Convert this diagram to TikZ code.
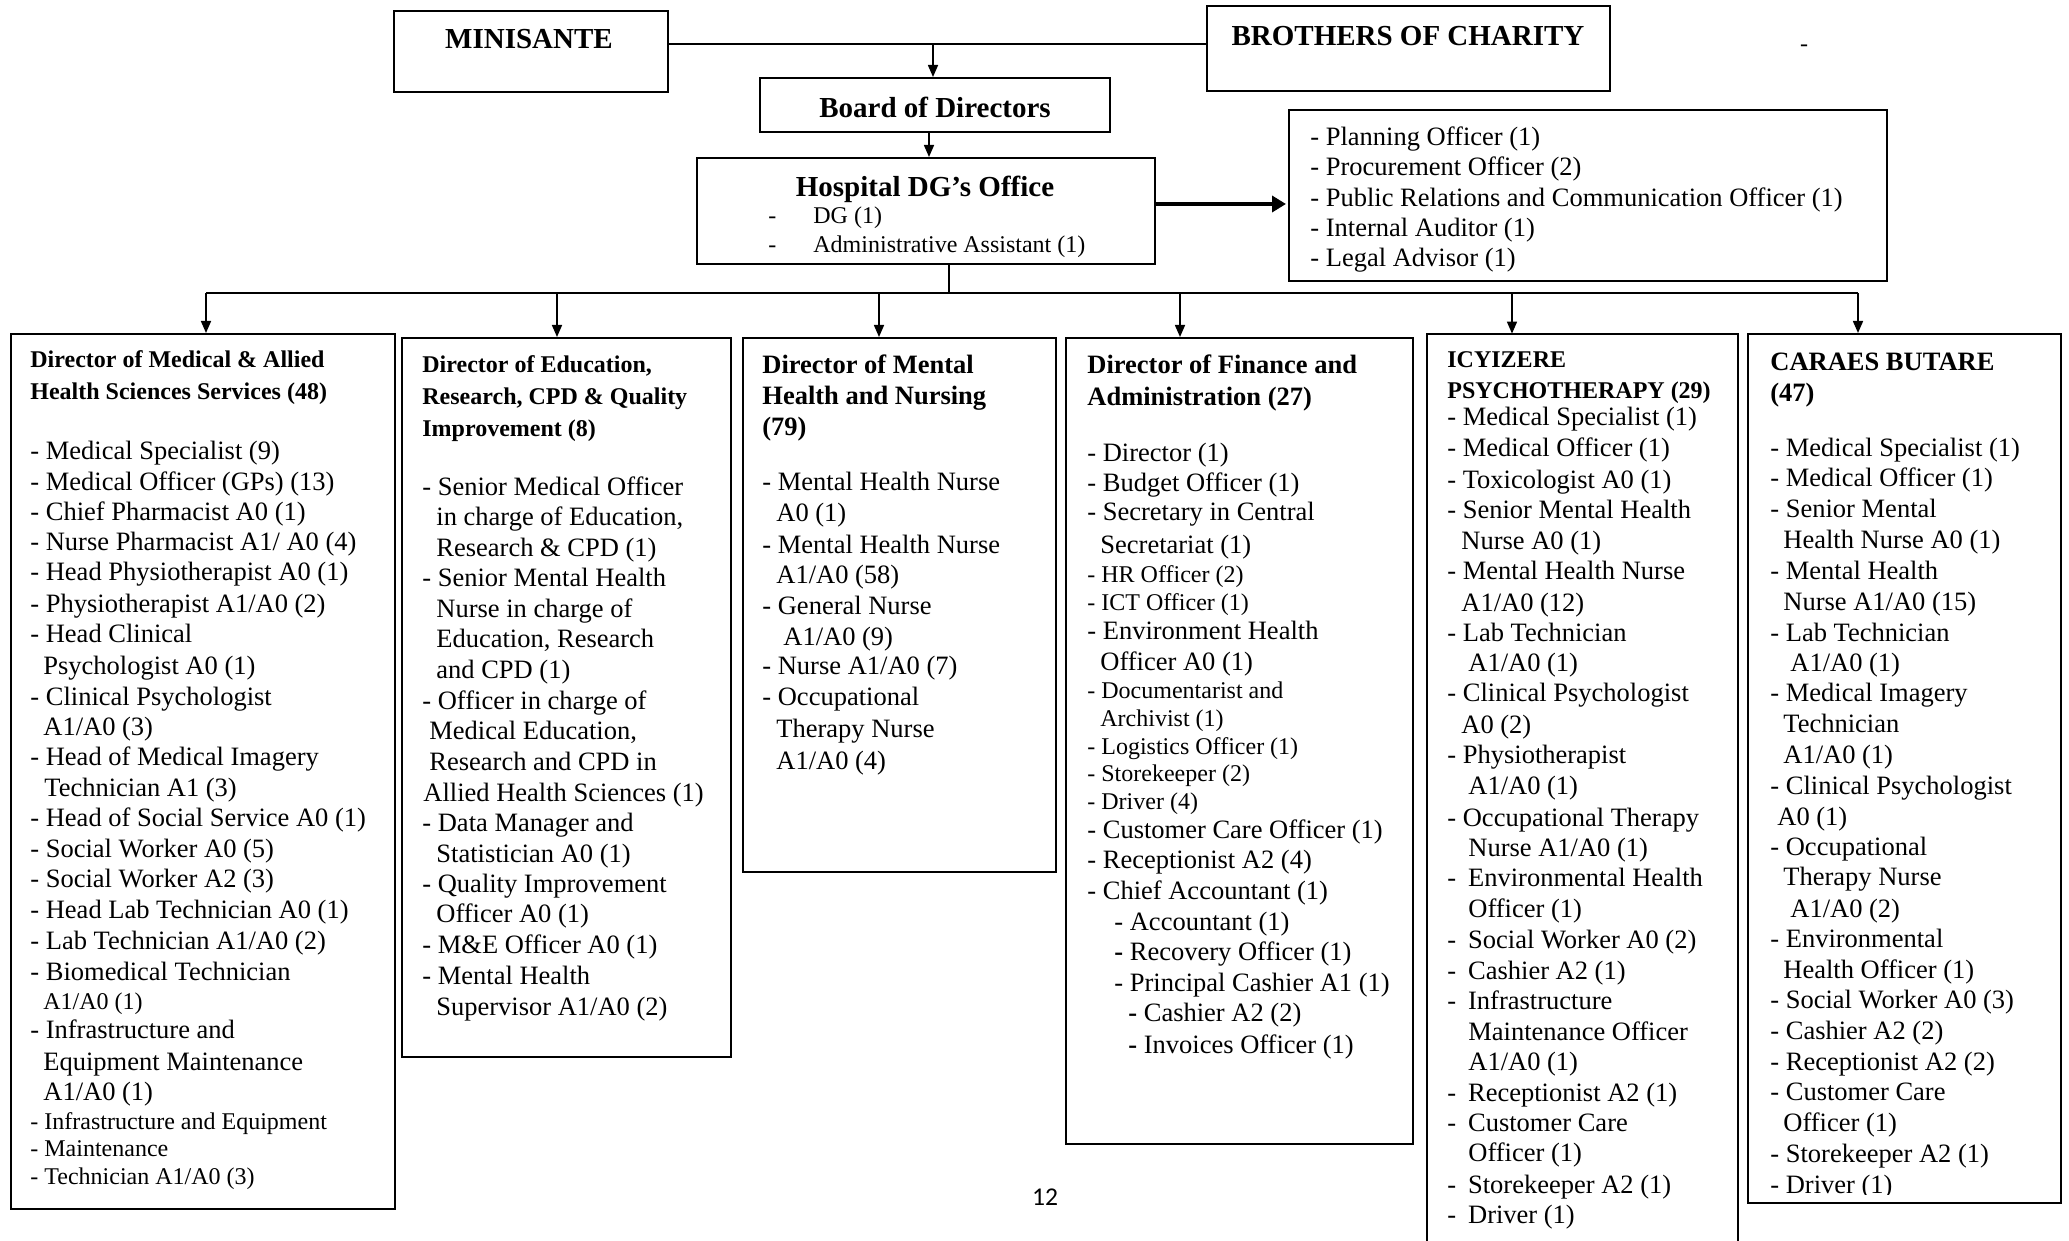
\documentclass[tikz,border=0pt]{standalone}
\usepackage{fontspec}
\setmainfont{Liberation Serif}
\newfontfamily\calib{Carlito}
\usetikzlibrary{arrows.meta,fit}
\newcommand\Nm{\fontsize{13.25pt}{15pt}\selectfont}
\newcommand\Sm{\fontsize{12pt}{14pt}\selectfont}
\newcommand\Hd{\bfseries\fontsize{12pt}{14pt}\selectfont}
\newcommand\Hb{\bfseries\fontsize{13.25pt}{15pt}\selectfont}
\newcommand\Ht{\bfseries\fontsize{14.5pt}{17pt}\selectfont}
\newcommand\Dsh{-\hspace{0.45em}}
\tikzset{
  box/.style={draw, line width=1pt, inner sep=0pt},
  tx/.style={anchor=west, inner sep=0pt, text height=10.5pt, text depth=2.5pt},
  conn/.style={line width=0.8pt},
  arr/.style={line width=0.8pt, -{Triangle[length=6pt,width=5pt]}},
  thickarr/.style={line width=2pt, -{Triangle[length=7pt,width=8pt]}},
}
\begin{document}
\begin{tikzpicture}[x=0.5pt,y=-0.5pt]
\useasboundingbox (0,0) rectangle (2069,1241);
\fill[white] (0,0) rectangle (2069,1241);

% top boxes
\node[box, fit={(394,11) (668,92)}] (mini) {};
\node[tx, anchor=center, font=\Ht] (minit) at (529,41) {MINISANTE};
\node[box, fit={(1207,6) (1610,91)}] (bro) {};
\node[tx, anchor=center, font=\Ht] (brot) at (1408,38) {BROTHERS OF CHARITY};
\node[tx, anchor=center, font=\Sm] (stray) at (1804,44) {-};
\node[box, fit={(760,78) (1110,132)}] (board) {};
\node[tx, anchor=center, font=\Ht] (boardt) at (935,110) {Board of Directors};
\node[box, fit={(697,158) (1155,264)}] (dg) {};
\node[tx, anchor=center, font=\Ht] (dgt) at (925,189) {Hospital DG’s Office};
\node[tx, font=\Sm] (dgd1) at (768,216) {-};
\node[tx, font=\Sm] (dgl1) at (813,216) {DG (1)};
\node[tx, font=\Sm] (dgd2) at (768,245) {-};
\node[tx, font=\Sm] (dgl2) at (813,245) {Administrative Assistant (1)};
\node[box, fit={(1289,110) (1887,281)}] (staff) {};
\foreach \y/\t [count=\i] in {138/{- Planning Officer (1)},168/{- Procurement Officer (2)},199/{- Public Relations and Communication Officer (1)},229/{- Internal Auditor (1)},259/{- Legal Advisor (1)}}
  {\node[tx, font=\Nm] (st-\i) at (1310,\y) {\t};}

% lower boxes
\node[box, fit={(11,334) (395,1209)}] (b1) {};
\node[box, fit={(402,338) (731,1057)}] (b2) {};
\node[box, fit={(743,338) (1056,872)}] (b3) {};
\node[box, fit={(1066,338) (1413,1144)}] (b4) {};
\node[inner sep=0pt, fit={(1427,334) (1738,1241)}] (b5) {};
\draw[line width=1pt] (b5.south west) -- (b5.north west) -- (b5.north east) -- (b5.south east);
\node[box, fit={(1748,334) (2061,1203)}] (b6) {};

% connectors
\coordinate (j1) at (933,44);
\draw[conn] (mini.east |- j1) -- (bro.west |- j1);
\draw[arr] (j1) -- (j1 |- board.north);
\draw[arr] ([xshift=-3pt]board.south) -- ([xshift=-3pt]board.south |- dg.north);
\coordinate (a3) at (1155,204);
\draw[thickarr] (dg.east |- a3) -- ([xshift=-1pt]staff.west |- a3);
\coordinate (stem) at (949,293);
\draw[conn] (stem |- dg.south) -- (stem);
\coordinate (bus1) at (206,293);
\coordinate (bus2) at (557,293);
\coordinate (bus3) at (879,293);
\coordinate (bus4) at (1180,293);
\coordinate (bus5) at (1512,293);
\coordinate (bus6) at (1858,293);
\draw[conn] (bus1) -- (bus6);
\foreach \i in {1,...,6} {\draw[arr] (bus\i) -- (bus\i |- b\i.north);}

% box 1
\foreach \x/\y/\f/\t [count=\i] in {
30/360/\Hd/{Director of Medical \& Allied},
30/392/\Hd/{Health Sciences Services (48)},
30/451/\Nm/{- Medical Specialist (9)},
30/482/\Nm/{- Medical Officer (GPs) (13)},
30/512/\Nm/{- Chief Pharmacist A0 (1)},
30/543/\Nm/{- Nurse Pharmacist A1/ A0 (4)},
30/573/\Nm/{- Head Physiotherapist A0 (1)},
30/604/\Nm/{- Physiotherapist A1/A0 (2)},
30/634/\Nm/{- Head Clinical},
43/666/\Nm/{Psychologist A0 (1)},
30/697/\Nm/{- Clinical Psychologist},
43/727/\Nm/{A1/A0 (3)},
30/757/\Nm/{- Head of Medical Imagery},
44/788/\Nm/{Technician A1 (3)},
30/818/\Nm/{- Head of Social Service A0 (1)},
30/849/\Nm/{- Social Worker A0 (5)},
30/879/\Nm/{- Social Worker A2 (3)},
30/910/\Nm/{- Head Lab Technician A0 (1)},
30/941/\Nm/{- Lab Technician A1/A0 (2)},
30/972/\Nm/{- Biomedical Technician},
43/1001/\Sm/{A1/A0 (1)},
30/1030/\Nm/{- Infrastructure and},
43/1062/\Nm/{Equipment Maintenance},
43/1092/\Nm/{A1/A0 (1)},
30/1121/\Sm/{- Infrastructure and Equipment},
30/1148/\Sm/{- Maintenance},
30/1176/\Sm/{- Technician A1/A0 (3)}}
  {\node[tx, font=\f] (b1-\i) at (\x,\y) {\t};}

% box 2
\foreach \x/\y/\f/\t [count=\i] in {
422/364/\Hd/{Director of Education,},
422/397/\Hd/{Research, CPD \& Quality},
422/429/\Hd/{Improvement (8)},
422/487/\Nm/{- Senior Medical Officer},
436/517/\Nm/{in charge of Education,},
436/548/\Nm/{Research \& CPD (1)},
422/578/\Nm/{- Senior Mental Health},
436/609/\Nm/{Nurse in charge of},
436/639/\Nm/{Education, Research},
436/670/\Nm/{and CPD (1)},
422/701/\Nm/{- Officer in charge of},
429/731/\Nm/{Medical Education,},
429/762/\Nm/{Research and CPD in},
423/793/\Nm/{Allied Health Sciences (1)},
422/823/\Nm/{- Data Manager and},
436/854/\Nm/{Statistician A0 (1)},
422/884/\Nm/{- Quality Improvement},
436/914/\Nm/{Officer A0 (1)},
422/945/\Nm/{- M\&E Officer A0 (1)},
422/976/\Nm/{- Mental Health},
436/1007/\Nm/{Supervisor A1/A0 (2)}}
  {\node[tx, font=\f] (b2-\i) at (\x,\y) {\t};}

% box 3
\foreach \x/\y/\f/\t [count=\i] in {
762/366/\Hb/{Director of Mental},
762/397/\Hb/{Health and Nursing},
762/428/\Hb/{(79)},
762/482/\Nm/{- Mental Health Nurse},
776/514/\Nm/{A0 (1)},
762/545/\Nm/{- Mental Health Nurse},
776/575/\Nm/{A1/A0 (58)},
762/606/\Nm/{- General Nurse},
783/637/\Nm/{A1/A0 (9)},
762/666/\Nm/{- Nurse A1/A0 (7)},
762/697/\Nm/{- Occupational},
776/729/\Nm/{Therapy Nurse},
776/761/\Nm/{A1/A0 (4)}}
  {\node[tx, font=\f] (b3-\i) at (\x,\y) {\t};}

% box 4
\foreach \x/\y/\f/\t [count=\i] in {
1087/366/\Hb/{Director of Finance and},
1087/398/\Hb/{Administration (27)},
1087/453/\Nm/{- Director (1)},
1087/483/\Nm/{- Budget Officer (1)},
1087/513/\Nm/{- Secretary in Central},
1100/545/\Nm/{Secretariat (1)},
1087/574/\Sm/{- HR Officer (2)},
1087/602/\Sm/{- ICT Officer (1)},
1087/631/\Nm/{- Environment Health},
1100/662/\Nm/{Officer A0 (1)},
1087/690/\Sm/{- Documentarist and},
1100/718/\Sm/{Archivist (1)},
1087/746/\Sm/{- Logistics Officer (1)},
1087/773/\Sm/{- Storekeeper (2)},
1087/801/\Sm/{- Driver (4)},
1087/830/\Nm/{- Customer Care Officer (1)},
1087/860/\Nm/{- Receptionist A2 (4)},
1087/891/\Nm/{- Chief Accountant (1)},
1114/922/\Nm/{- Accountant (1)},
1114/952/\Nm/{\textbf{-} Recovery Officer (1)},
1114/983/\Nm/{- Principal Cashier A1 (1)},
1128/1013/\Nm/{\textbf{-} Cashier A2 (2)},
1128/1045/\Nm/{\textbf{-} Invoices Officer (1)}}
  {\node[tx, font=\f] (b4-\i) at (\x,\y) {\t};}

% box 5
\foreach \x/\y/\f/\t [count=\i] in {
1447/360/\Hd/{ICYIZERE},
1447/391/\Hd/{PSYCHOTHERAPY (29)},
1447/418/\Nm/{- Medical Specialist (1)},
1447/449/\Nm/{- Medical Officer (1)},
1447/480/\Nm/{- Toxicologist A0 (1)},
1447/510/\Nm/{- Senior Mental Health},
1461/541/\Nm/{Nurse A0 (1)},
1447/571/\Nm/{- Mental Health Nurse},
1461/603/\Nm/{A1/A0 (12)},
1447/633/\Nm/{- Lab Technician},
1468/663/\Nm/{A1/A0 (1)},
1447/693/\Nm/{- Clinical Psychologist},
1461/725/\Nm/{A0 (2)},
1447/755/\Nm/{- Physiotherapist},
1468/786/\Nm/{A1/A0 (1)},
1447/818/\Nm/{- Occupational Therapy},
1468/848/\Nm/{Nurse A1/A0 (1)},
1447/878/\Nm/{\Dsh Environmental Health},
1468/909/\Nm/{Officer (1)},
1447/940/\Nm/{\Dsh Social Worker A0 (2)},
1447/971/\Nm/{\Dsh Cashier A2 (1)},
1447/1001/\Nm/{\Dsh Infrastructure},
1468/1032/\Nm/{Maintenance Officer},
1468/1062/\Nm/{A1/A0 (1)},
1447/1093/\Nm/{\Dsh Receptionist A2 (1)},
1447/1123/\Nm/{\Dsh Customer Care},
1468/1153/\Nm/{Officer (1)},
1447/1185/\Nm/{\Dsh Storekeeper A2 (1)},
1447/1215/\Nm/{\Dsh Driver (1)}}
  {\node[tx, font=\f] (b5-\i) at (\x,\y) {\t};}

% box 6
\foreach \x/\y/\f/\t [count=\i] in {
1770/363/\Hb/{CARAES BUTARE},
1770/393/\Hb/{(47)},
1770/449/\Nm/{- Medical Specialist (1)},
1770/479/\Nm/{- Medical Officer (1)},
1770/509/\Nm/{- Senior Mental},
1783/540/\Nm/{Health Nurse A0 (1)},
1770/571/\Nm/{- Mental Health},
1783/602/\Nm/{Nurse A1/A0 (15)},
1770/633/\Nm/{- Lab Technician},
1790/663/\Nm/{A1/A0 (1)},
1770/693/\Nm/{- Medical Imagery},
1783/724/\Nm/{Technician},
1783/755/\Nm/{A1/A0 (1)},
1770/786/\Nm/{- Clinical Psychologist},
1777/817/\Nm/{A0 (1)},
1770/847/\Nm/{- Occupational},
1783/877/\Nm/{Therapy Nurse},
1790/909/\Nm/{A1/A0 (2)},
1770/939/\Nm/{- Environmental},
1783/970/\Nm/{Health Officer (1)},
1770/1000/\Nm/{- Social Worker A0 (3)},
1770/1031/\Nm/{- Cashier A2 (2)},
1770/1062/\Nm/{- Receptionist A2 (2)},
1770/1092/\Nm/{- Customer Care},
1783/1123/\Nm/{Officer (1)},
1770/1154/\Nm/{- Storekeeper A2 (1)}}
  {\node[tx, font=\f] (b6-\i) at (\x,\y) {\t};}
\begin{scope}
\clip (1750,1168) rectangle (2059,1194);
\node[tx, font=\Nm] (b6-last) at (1770,1185) {- Driver (1)};
\end{scope}

% page number
\node[inner sep=0pt, font=\calib\fontsize{12.8pt}{15pt}\selectfont] (pagenum) at (1045,1197) {12};
\end{tikzpicture}
\end{document}
